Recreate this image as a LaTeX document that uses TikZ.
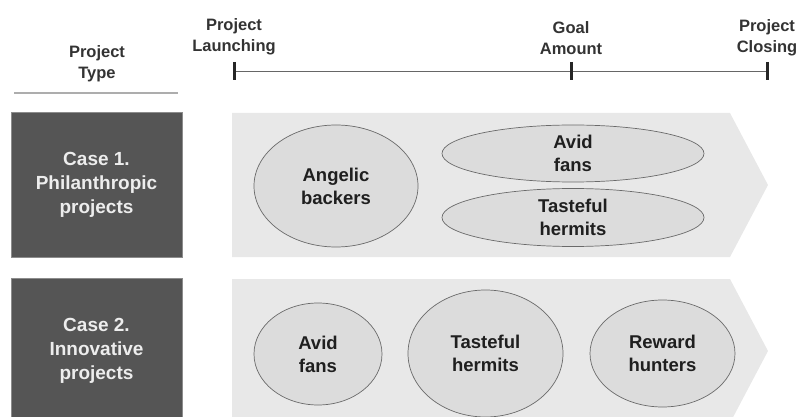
\documentclass[tikz,border=0pt]{standalone}
\usepackage{fontspec}
\setmainfont{Liberation Sans}
\usetikzlibrary{shapes.geometric}
\definecolor{casegray}{HTML}{555555}
\definecolor{bandgray}{HTML}{E8E8E8}
\definecolor{ellfill}{HTML}{DCDCDC}
\definecolor{ellline}{HTML}{6A6A6A}
\definecolor{hdrtext}{HTML}{333333}
\begin{document}
\begin{tikzpicture}[x=1pt,y=-1pt,
  hdr/.style={font=\bfseries\fontsize{16.5}{21}\selectfont, text=hdrtext, align=center, inner sep=0},
  casebox/.style={fill=casegray, draw=black!45, line width=0.6pt, font=\bfseries\fontsize{19}{24}\selectfont,
    text=white!93!black, align=center, minimum width=171pt, minimum height=145pt, inner sep=0},
  band/.style={fill=bandgray},
  ell/.style={ellipse, draw=ellline, fill=ellfill, line width=0.7pt, inner sep=0},
  etxt/.style={font=\bfseries\fontsize{18.5}{23}\selectfont, text=black!88, align=center, inner sep=0},
  tick/.style={line width=3pt, black!85}
]
\useasboundingbox (0,0) rectangle (796,417);

% header
\node[hdr] (ptype) at (97,64) {Project\\Type};
\coordinate (ul0) at (14,93);
\coordinate (ul1) at (178,93);
\draw[line width=2.5pt, black!32] (ul0) -- (ul1);

\coordinate (t0) at (234,71);
\coordinate (t1) at (571,71);
\coordinate (t2) at (767,71);
\draw[line width=0.8pt, black!60] (t0) -- (t2);
\foreach \t in {t0,t1,t2} \draw[tick] ([yshift=9pt]\t) -- ([yshift=-9pt]\t);
\node[hdr] (launch) at (234,37) {Project\\Launching};
\node[hdr] (goal) at (571,38) {Goal\\Amount};
\node[hdr] (close) at (767,38) {Project\\Closing};

% row 1
\node[casebox] (c1) at (96.5,184.5) {Case 1.\\Philanthropic\\projects};
\fill[band] (232,113) -- (730,113) -- (768,185) -- (730,257) -- (232,257) -- cycle;
\node[ell, minimum width=164pt, minimum height=122pt] (ab) at (336,186) {};
\node[etxt] (abt) at (ab) {Angelic\\backers};
\node[ell, minimum width=262pt, minimum height=57pt] (af1) at (573,153.5) {};
\node[etxt] (af1t) at (af1) {Avid\\fans};
\node[ell, minimum width=262pt, minimum height=58pt] (th1) at (573,217.5) {};
\node[etxt] (th1t) at (th1) {Tasteful\\hermits};

% row 2
\node[casebox] (c2) at (96.5,351) {Case 2.\\Innovative\\projects};
\fill[band] (232,279) -- (730,279) -- (768,351) -- (730,423) -- (232,423) -- cycle;
\node[ell, minimum width=128pt, minimum height=102pt] (af2) at (318,354) {};
\node[etxt] (af2t) at (af2) {Avid\\fans};
\node[ell, minimum width=155pt, minimum height=127pt] (th2) at (485.5,353.5) {};
\node[etxt] (th2t) at (th2) {Tasteful\\hermits};
\node[ell, minimum width=145pt, minimum height=107pt] (rh) at (662.5,353.5) {};
\node[etxt] (rht) at (rh) {Reward\\hunters};
\end{tikzpicture}
\end{document}
